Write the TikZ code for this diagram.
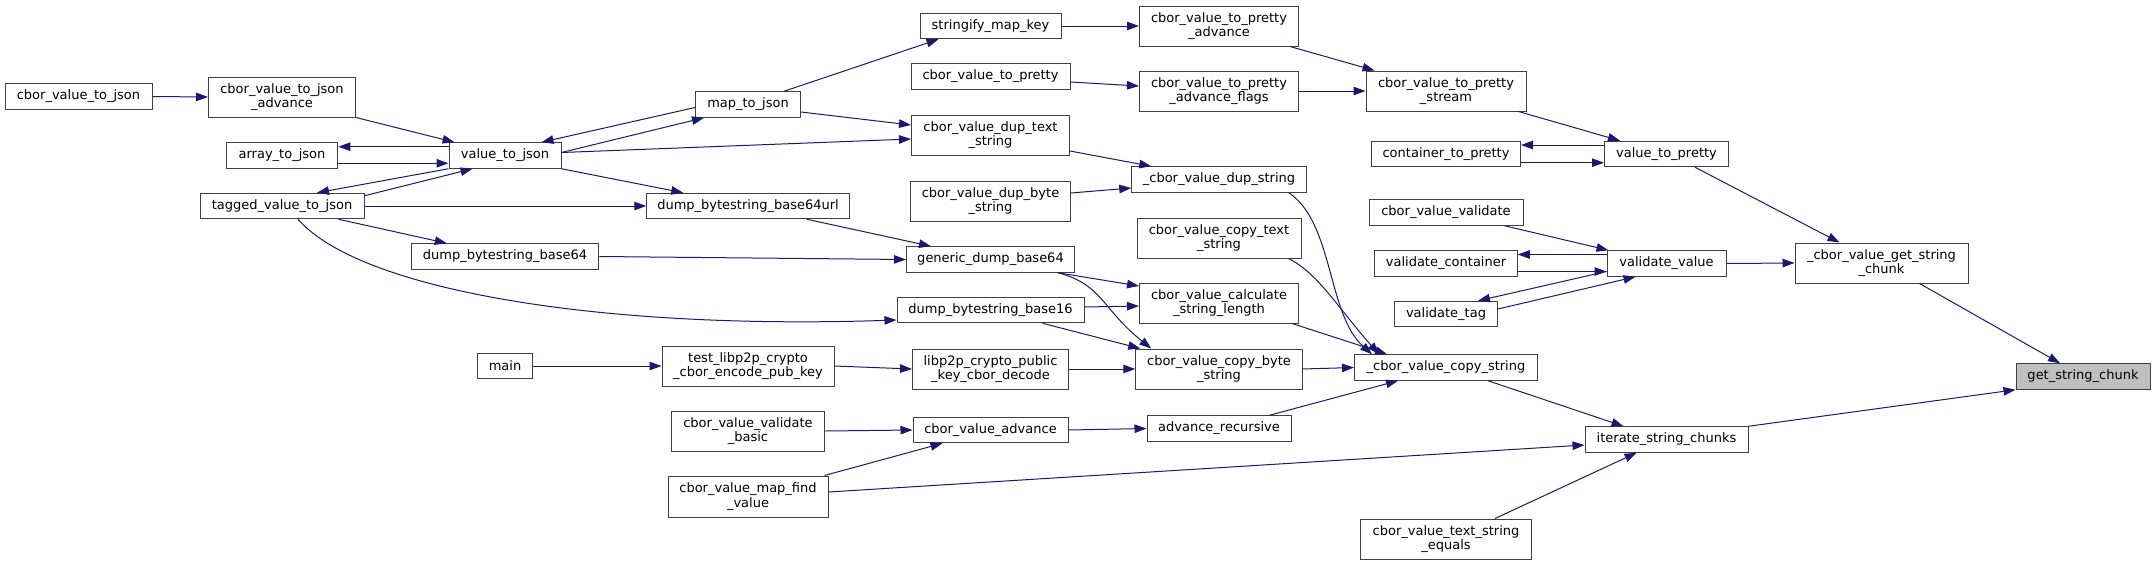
\documentclass[tikz,border=0pt]{standalone}
\usepackage{fontspec}
\setmainfont{DejaVu Sans}
\usepackage{tikz}
\usetikzlibrary{arrows.meta}
\definecolor{edgeblue}{HTML}{191970}
\definecolor{boxline}{HTML}{404040}
\definecolor{boxgrey}{HTML}{BFBFBF}

\begin{document}
\begin{tikzpicture}[
  x=1pt,y=-1pt,
  every node/.style={font=\fontsize{13}{14.5}\selectfont,align=center,inner sep=0pt},
  fn/.style={draw=boxline,fill=white,line width=1pt,minimum height=25.5pt},
  fnn/.style={fn,minimum height=40pt},
  hl/.style={fn,fill=boxgrey},
  call/.style={draw=edgeblue,line width=1pt,-{Triangle[length=12pt,width=8.5pt]}}
]
\useasboundingbox (0,0) rectangle (2155,565);

\node[fn,minimum width=147pt] (tojson) at (78.5,96.5) {cbor\_value\_to\_json};
\node[fnn,minimum width=147pt] (tojsonadv) at (282,97) {cbor\_value\_to\_json\\\_advance};
\node[fn,minimum width=111.5pt] (arraytojson) at (282,155.5) {array\_to\_json};
\node[fn,minimum width=164pt] (taggedtojson) at (282,206) {tagged\_value\_to\_json};
\node[fn,minimum width=112pt] (valuetojson) at (505,155.5) {value\_to\_json};
\node[fn,minimum width=187.5pt] (b64) at (505,256.5) {dump\_bytestring\_base64};
\node[fn,minimum width=55.5pt] (main) at (505,366) {main};
\node[fn,minimum width=105pt] (maptojson) at (748,104.5) {map\_to\_json};
\node[fn,minimum width=202.5pt] (b64url) at (748,206) {dump\_bytestring\_base64url};
\node[fnn,minimum width=172pt] (testenc) at (748,366) {test\_libp2p\_crypto\\\_cbor\_encode\_pub\_key};
\node[fnn,minimum width=153.5pt] (validatebasic) at (748,431) {cbor\_value\_validate\\\_basic};
\node[fnn,minimum width=160pt,minimum height=41pt] (mapfind) at (748,496.5) {cbor\_value\_map\_find\\\_value};
\node[fn,minimum width=141pt] (stringify) at (990.5,26) {stringify\_map\_key};
\node[fn,minimum width=159pt] (topretty) at (990.5,76.5) {cbor\_value\_to\_pretty};
\node[fnn,minimum width=158pt] (duptext) at (990.5,135) {cbor\_value\_dup\_text\\\_string};
\node[fnn,minimum width=160pt] (dupbyte) at (990.5,201) {cbor\_value\_dup\_byte\\\_string};
\node[fn,minimum width=168pt] (gendump) at (990.5,259.5) {generic\_dump\_base64};
\node[fn,minimum width=187pt] (b16) at (990.5,310) {dump\_bytestring\_base16};
\node[fnn,minimum width=156pt] (pkdecode) at (990.5,369) {libp2p\_crypto\_public\\\_key\_cbor\_decode};
\node[fn,minimum width=155pt] (advance) at (990.5,430) {cbor\_value\_advance};
\node[fnn,minimum width=159pt] (prettyadv) at (1219,26) {cbor\_value\_to\_pretty\\\_advance};
\node[fnn,minimum width=159pt] (prettyflags) at (1219,91) {cbor\_value\_to\_pretty\\\_advance\_flags};
\node[fn,minimum width=174.5pt] (dupstr) at (1219,179.5) {\_cbor\_value\_dup\_string};
\node[fnn,minimum width=164pt] (copytext) at (1219,238) {cbor\_value\_copy\_text\\\_string};
\node[fnn,minimum width=159pt] (calclen) at (1219,303) {cbor\_value\_calculate\\\_string\_length};
\node[fnn,minimum width=166.5pt] (copybyte) at (1219,369) {cbor\_value\_copy\_byte\\\_string};
\node[fn,minimum width=144pt] (advrec) at (1219,428.5) {advance\_recursive};
\node[fnn,minimum width=160pt] (prettystream) at (1446,91) {cbor\_value\_to\_pretty\\\_stream};
\node[fn,minimum width=149pt] (container) at (1446,154) {container\_to\_pretty};
\node[fn,minimum width=154pt] (validate) at (1446,212.5) {cbor\_value\_validate};
\node[fn,minimum width=142.5pt] (valcontainer) at (1446,263.5) {validate\_container};
\node[fn,minimum width=103pt] (valtag) at (1446,314) {validate\_tag};
\node[fn,minimum width=183pt] (copystr) at (1446,367.5) {\_cbor\_value\_copy\_string};
\node[fnn,minimum width=171pt] (textequals) at (1446,539) {cbor\_value\_text\_string\\\_equals};
\node[fn,minimum width=124pt] (valuetopretty) at (1666.5,154) {value\_to\_pretty};
\node[fn,minimum width=119pt] (valvalue) at (1666.5,263.5) {validate\_value};
\node[fn,minimum width=163pt] (iterate) at (1666.5,439.5) {iterate\_string\_chunks};
\node[fnn,minimum width=173pt] (getchunkint) at (1881.5,263) {\_cbor\_value\_get\_string\\\_chunk};
\node[hl,minimum width=134pt] (getchunk) at (2083,376.5) {get\_string\_chunk};

\draw[call] (tojson.east) -- (tojsonadv.west);
\draw[call] (tojsonadv.south east) -- ([xshift=6pt]valuetojson.north west);
\draw[call] ([yshift=8.8pt]valuetojson.west) -- ([yshift=8.8pt]arraytojson.east);
\draw[call] ([yshift=-7.8pt]arraytojson.east) -- ([yshift=-7.8pt]valuetojson.west);
\draw[call] (valuetojson.south west) -- ([xshift=35pt]taggedtojson.north);
\draw[call] ([yshift=-3pt]taggedtojson.north east) -- ([xshift=24pt]valuetojson.south west);
\draw[call] ([yshift=-3pt]maptojson.west) -- ([xshift=-20pt]valuetojson.north east);
\draw[call] ([yshift=3pt]valuetojson.east) -- ([xshift=9pt]maptojson.south west);
\draw[call] ([yshift=3pt]valuetojson.east) -- ([yshift=-4pt]duptext.west);
\draw[call] ([yshift=-7.5pt]maptojson.east) -- ([yshift=10pt]duptext.west);
\draw[call] ([xshift=-17pt]maptojson.north east) -- ([xshift=19pt]stringify.south west);
\draw[call] (valuetojson.south east) -- ([xshift=37pt]b64url.north west);
\draw[call] (taggedtojson.east) -- (b64url.west);
\draw[call] ([xshift=-26pt]taggedtojson.south east) -- ([xshift=36pt]b64.north west);
\draw[call] ([xshift=16pt]taggedtojson.south) .. controls +(62,71) and +(-297,10) .. ([yshift=-10pt]b16.west);
\draw[call] (stringify.east) -- (prettyadv.west);
\draw[call] ([yshift=-5.5pt]topretty.east) -- ([yshift=5pt]prettyflags.west);
\draw[call] ([xshift=-9pt]prettyadv.south east) -- ([xshift=9pt]prettystream.north west);
\draw[call] (prettyflags.east) -- (prettystream.west);
\draw[call] ([xshift=-8pt]prettystream.south east) -- ([xshift=16pt]valuetopretty.north west);
\draw[call] ([yshift=9pt]valuetopretty.west) -- ([yshift=9pt]container.east);
\draw[call] ([yshift=-8.7pt]container.east) -- ([yshift=-8.7pt]valuetopretty.west);
\draw[call] ([xshift=-34pt]valuetopretty.south east) -- ([xshift=45pt]getchunkint.north west);
\draw[call] ([xshift=-19pt]validate.south east) -- ([xshift=2pt]valvalue.north west);
\draw[call] ([yshift=9pt]valvalue.west) -- ([yshift=9pt]valcontainer.east);
\draw[call] ([yshift=-8pt]valcontainer.east) -- ([yshift=-8pt]valvalue.west);
\draw[call] ([yshift=-8pt]valvalue.west) -- ([xshift=-20pt]valtag.north east);
\draw[call] ([yshift=5pt]valtag.east) -- ([xshift=29pt]valvalue.south west);
\draw[call] (valvalue.east) -- (getchunkint.west);
\draw[call] ([xshift=38pt]getchunkint.south) -- ([xshift=-23pt]getchunk.north);
\draw[call] (iterate.north east) -- (getchunk.south west);
\draw[call] ([xshift=-50pt]copystr.south east) -- ([xshift=39pt]iterate.north west);
\draw[call] ([yshift=4.5pt]mapfind.east) -- ([yshift=-5.5pt]iterate.west);
\draw[call] ([xshift=-37pt]textequals.north east) -- ([xshift=-30pt]iterate.south);
\draw[call] ([xshift=-18pt]dupstr.south east) .. controls +(45,30) and +(-45,-40) .. ([xshift=18pt]copystr.north west);
\draw[call] ([xshift=-13pt]copytext.south east) .. controls +(30,15) and +(-40,-45) .. ([xshift=25pt]copystr.north west);
\draw[call] ([xshift=-7pt]calclen.south east) -- ([xshift=33pt]copystr.north west);
\draw[call] (copybyte.east) -- (copystr.west);
\draw[call] ([xshift=-22pt]advrec.north east) -- ([xshift=44pt]copystr.south west);
\draw[call] ([yshift=-16pt]duptext.east) -- ([xshift=20pt]dupstr.north west);
\draw[call] ([yshift=8pt]dupbyte.east) -- ([yshift=-8.5pt]dupstr.west);
\draw[call] ([xshift=-43pt]b64url.south east) -- ([xshift=25pt]gendump.north west);
\draw[call] (b64.east) -- (gendump.west);
\draw[call] ([xshift=-17pt]gendump.south east) -- ([yshift=17pt]calclen.west);
\draw[call] ([xshift=-17pt]gendump.south east) .. controls +(45,12) and +(-50,-40) .. ([xshift=16pt]copybyte.north west);
\draw[call] ([yshift=3pt]b16.east) -- ([yshift=-3pt]calclen.west);
\draw[call] ([xshift=-42pt]b16.south east) -- ([xshift=5pt]copybyte.north west);
\draw[call] (main.east) -- (testenc.west);
\draw[call] (testenc.east) -- (pkdecode.west);
\draw[call] (pkdecode.east) -- (copybyte.west);
\draw[call] (validatebasic.east) -- (advance.west);
\draw[call] ([xshift=-4pt]mapfind.north east) -- ([xshift=30pt]advance.south west);
\draw[call] (advance.east) -- (advrec.west);
\end{tikzpicture}
\end{document}
